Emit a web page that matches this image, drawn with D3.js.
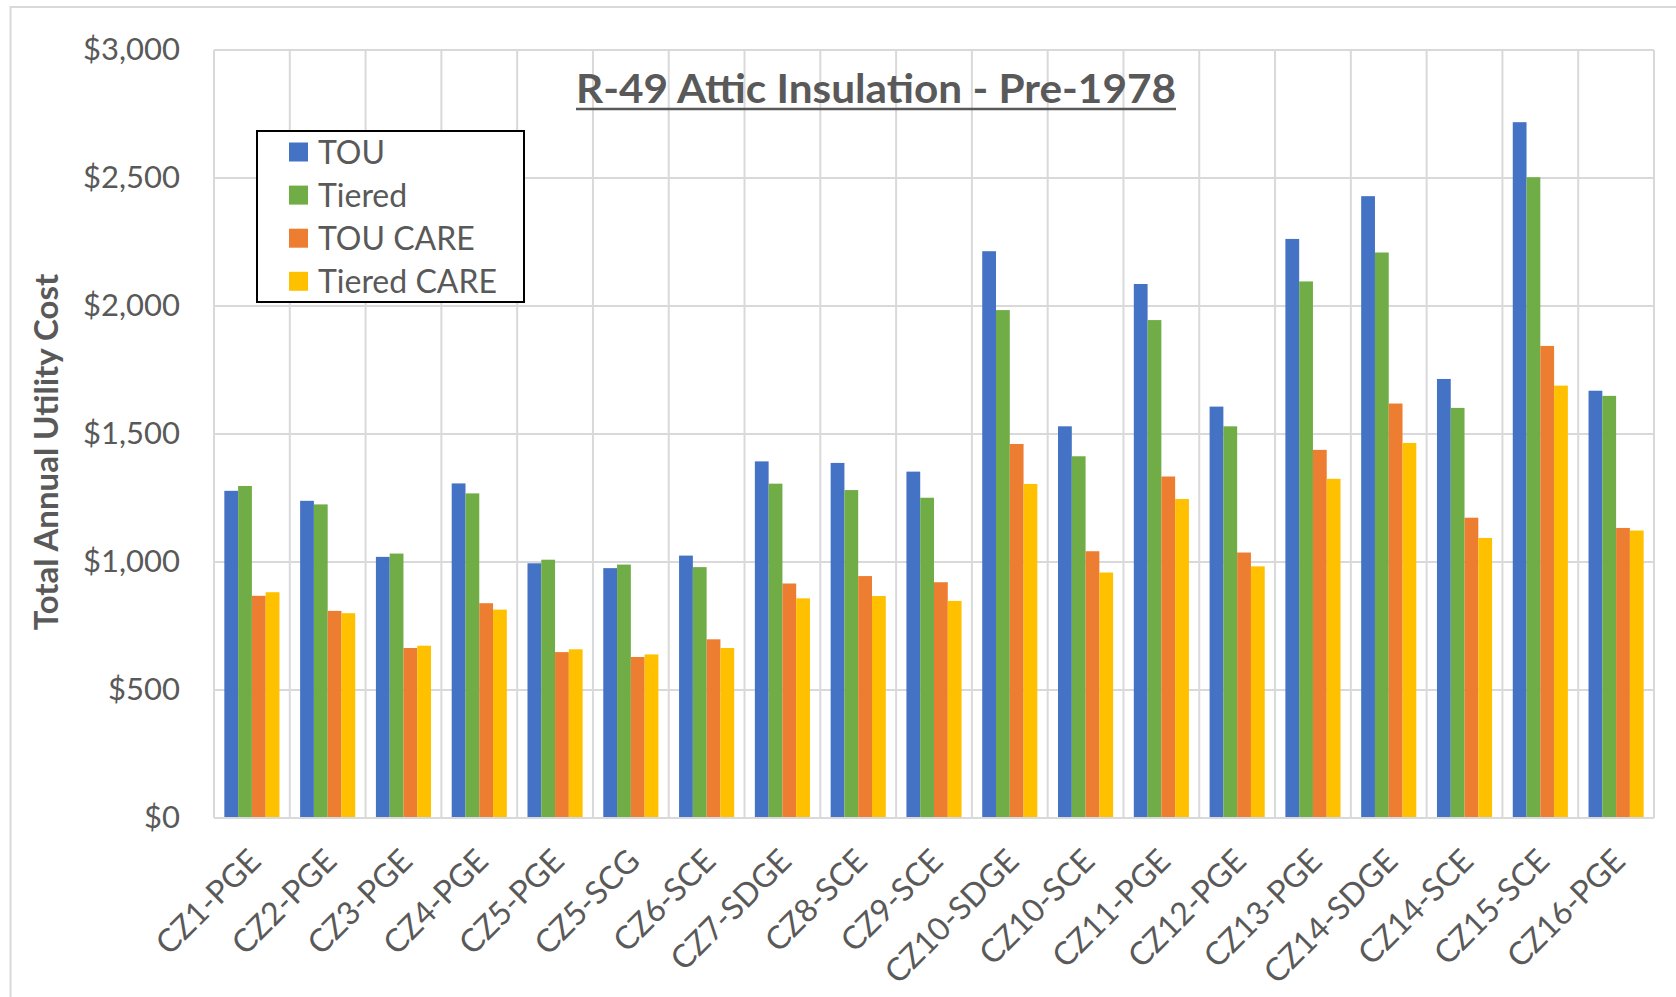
<!DOCTYPE html>
<html>
<head>
<meta charset="utf-8">
<script src="https://cdn.jsdelivr.net/npm/d3@7"></script>
<style>
    body { margin: 0; background: #fff; }
    svg text { font-family: Lato, "Open Sans", sans-serif; fill: #595959; }
</style>
</head>
<body>
<svg width="1676" height="997"></svg>
<script>

// values
var categories = ["CZ1-PGE", "CZ2-PGE", "CZ3-PGE", "CZ4-PGE", "CZ5-PGE", "CZ5-SCG", "CZ6-SCE",
    "CZ7-SDGE", "CZ8-SCE", "CZ9-SCE", "CZ10-SDGE", "CZ10-SCE", "CZ11-PGE", "CZ12-PGE",
    "CZ13-PGE", "CZ14-SDGE", "CZ14-SCE", "CZ15-SCE", "CZ16-PGE"]

var tou        = [1278, 1239, 1020, 1307, 995, 976, 1025, 1393, 1387, 1353, 2214, 1530, 2086, 1607, 2262, 2429, 1715, 2718, 1669]
var tiered     = [1297, 1225, 1033, 1268, 1009, 990, 980, 1306, 1281, 1251, 1984, 1413, 1945, 1530, 2096, 2209, 1602, 2503, 1649]
var touCare    = [868, 809, 664, 839, 648, 629, 698, 916, 945, 921, 1461, 1042, 1334, 1037, 1438, 1619, 1173, 1844, 1133]
var tieredCare = [882, 800, 673, 814, 659, 639, 664, 858, 867, 848, 1305, 959, 1246, 983, 1325, 1465, 1094, 1689, 1123]

var seriesNames = ["TOU", "Tiered", "TOU CARE", "Tiered CARE"]
var seriesColors = ["#4472C4", "#70AD47", "#ED7D31", "#FFC000"]
var yTicks = [0, 500, 1000, 1500, 2000, 2500, 3000]

var seriesValues = [tou, tiered, touCare, tieredCare]

var svg = d3.select("svg"),
    width = +svg.attr("width"),
    height = +svg.attr("height");

var plot = {left: 214, right: 1654, top: 50, bottom: 818}

// outer chart border (only left / top edges show in the picture)
svg.append("rect")
    .attr("x", 10.5)
    .attr("y", 7)
    .attr("width", 1800)
    .attr("height", 1200)
    .style("fill", "none")
    .style("stroke", "#d9d9d9")
    .style("stroke-width", 2);

var x = d3.scaleBand()
    .domain(categories)
    .range([plot.left, plot.right])
    .padding(0);

var gap = x.bandwidth() * 1.5 / 5.5
var xInner = d3.scaleBand()
    .domain(seriesNames)
    .range([gap / 2, x.bandwidth() - gap / 2])
    .padding(0);

var y = d3.scaleLinear()
    .domain([0, 3000])
    .range([plot.bottom, plot.top]);

// gridlines
var grid = svg.append("g").attr("class", "grid")
grid.selectAll("line.h")
    .data(yTicks)
    .enter().append("line")
    .attr("class", "h")
    .attr("x1", plot.left)
    .attr("x2", plot.right)
    .attr("y1", function (d) { return y(d); })
    .attr("y2", function (d) { return y(d); })
    .style("stroke", "#d9d9d9")
    .style("stroke-width", 2);

grid.selectAll("line.v")
    .data(categories.concat(["end"]))
    .enter().append("line")
    .attr("class", "v")
    .attr("x1", function (d, i) { return plot.left + i * x.bandwidth(); })
    .attr("x2", function (d, i) { return plot.left + i * x.bandwidth(); })
    .attr("y1", plot.top)
    .attr("y2", plot.bottom)
    .style("stroke", "#d9d9d9")
    .style("stroke-width", 2);

// y axis
var yAxis = svg.append("g")
    .attr("transform", "translate(" + 180 + ",0)")
    .call(d3.axisLeft(y)
        .tickValues(yTicks)
        .tickSize(0)
        .tickPadding(0)
        .tickFormat(function (d) { return "$" + d3.format(",")(d); }));
yAxis.select(".domain").remove();
yAxis.selectAll("text")
    .style("font-size", "31px")
    .style("fill", "#595959");

// bars
var groups = svg.append("g")
    .selectAll("g")
    .data(categories)
    .enter().append("g")
    .attr("transform", function (d) { return "translate(" + x(d) + ",0)"; });

groups.selectAll("rect")
    .data(function (d, ci) {
        return seriesNames.map(function (s, si) {
            return {series: s, value: seriesValues[si][ci], color: seriesColors[si]};
        });
    })
    .enter().append("rect")
    .attr("x", function (d) { return xInner(d.series); })
    .attr("width", xInner.bandwidth())
    .attr("y", function (d) { return y(d.value); })
    .attr("height", function (d) { return y(0) - y(d.value); })
    .style("fill", function (d) { return d.color; });

// x axis line (drawn over bar bottoms)
svg.append("line")
    .attr("x1", plot.left)
    .attr("x2", plot.right)
    .attr("y1", plot.bottom)
    .attr("y2", plot.bottom)
    .style("stroke", "#d9d9d9")
    .style("stroke-width", 2);

// x labels, rotated
svg.append("g")
    .selectAll("text")
    .data(categories)
    .enter().append("text")
    .attr("transform", function (d) {
        return "translate(" + (x(d) + x.bandwidth() / 2 + 3) + "," + 855 + ") rotate(-45)";
    })
    .attr("dy", "0.35em")
    .style("text-anchor", "end")
    .style("font-size", "32px")
    .text(function (d) { return d; });

// y axis title
svg.append("text")
    .attr("transform", "translate(46,452) rotate(-90)")
    .attr("dy", "0.35em")
    .style("text-anchor", "middle")
    .style("font-size", "33px")
    .style("font-weight", "bold")
    .text("Total Annual Utility Cost");

// chart title, underlined
svg.append("text")
    .attr("x", 876)
    .attr("y", 103)
    .attr("textLength", 600)
    .attr("lengthAdjust", "spacingAndGlyphs")
    .style("text-anchor", "middle")
    .style("font-size", "41px")
    .style("font-weight", "bold")
    .text("R-49 Attic Insulation - Pre-1978");

svg.append("line")
    .attr("x1", 576)
    .attr("x2", 1176)
    .attr("y1", 109)
    .attr("y2", 109)
    .style("stroke", "#595959")
    .style("stroke-width", 2.5);

// legend
var legendBox = svg.append("g").attr("transform", "translate(257,131)")
legendBox.append("rect")
    .attr("width", 267)
    .attr("height", 171)
    .style("fill", "#fff")
    .style("stroke", "#000")
    .style("stroke-width", 2);

var legend = legendBox.selectAll(".legend")
    .data(seriesNames)
    .enter().append("g")
    .attr("class", "legend")
    .attr("transform", function (d, i) { return "translate(32," + (21 + i * 43.1) + ")"; });
legend.append("rect")
    .attr("y", -9.5)
    .attr("width", 19)
    .attr("height", 19)
    .style("fill", function (d, i) { return seriesColors[i]; });
legend.append("text")
    .attr("x", 29)
    .attr("dy", "0.36em")
    .style("font-size", "32px")
    .text(function (d) { return d; });

</script>
</body>
</html>
